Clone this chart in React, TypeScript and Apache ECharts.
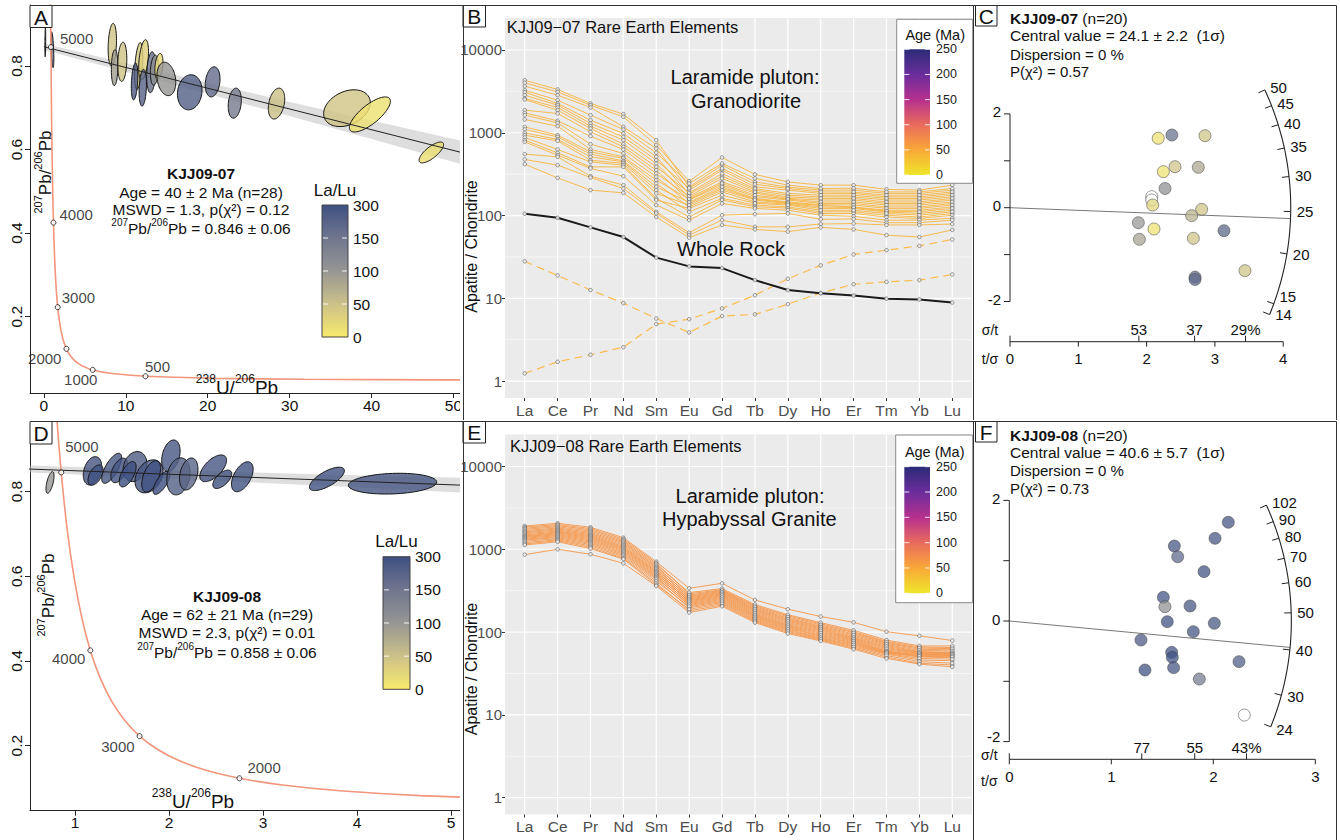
import React, { useEffect, useRef } from "react";
import * as echarts from "echarts";

const FONT = "'Liberation Sans', Arial, Helvetica, sans-serif";
const INK = "#111111";

// ---------------------------------------------------------------
// Tera–Wasserburg concordia (238U/206Pb vs 207Pb/206Pb)
// ---------------------------------------------------------------
const CONCORDIA_X = [0.7424, 0.795, 0.8533, 0.9179, 0.9902, 1.0713, 1.163, 1.2674, 1.387, 1.5254, 1.687, 1.8797, 2.111, 2.3942, 2.749, 3.206, 3.817, 4.673, 5.958, 8.105, 12.4, 20.99, 31.73, 49.09, 63.97];
const CONCORDIA_Y = [1.2067, 1.009, 0.8452, 0.7087, 0.5967, 0.503, 0.425, 0.36, 0.3058, 0.2605, 0.2226, 0.1909, 0.1643, 0.1419, 0.123, 0.1071, 0.0936, 0.0822, 0.0725, 0.0643, 0.0572, 0.0523, 0.0501, 0.0486, 0.048];
const AGE_MARKS = [5000, 4000, 3000, 2000, 1000, 500];
const AGE_MARK_X = [0.8533, 1.163, 1.687, 2.749, 5.958, 12.4];
const AGE_MARK_Y = [0.8452, 0.425, 0.2226, 0.123, 0.0725, 0.0572];

// Error ellipses: [238U/206Pb, 207Pb/206Pb, x half-axis, y half-axis, error correlation, La/Lu]
const ELLIPSES_0907 = [
  [0.17, 0.857, 0.05, 0.035, 0.3, 160],
  [1.03, 0.839, 0.18, 0.043, -0.5, 160],
  [8.35, 0.851, 0.51, 0.051, 0.2, 45],
  [8.63, 0.796, 0.4, 0.043, 0.1, 90],
  [9.57, 0.81, 0.55, 0.047, 0.15, 45],
  [11.56, 0.8, 0.5, 0.056, 0.4, 40],
  [11.07, 0.763, 0.4, 0.044, 0.3, 250],
  [12.17, 0.815, 0.6, 0.048, 0.4, 30],
  [12.07, 0.748, 0.45, 0.044, 0.2, 220],
  [13.1, 0.785, 0.55, 0.049, 0.2, 170],
  [13.5, 0.79, 0.5, 0.036, 0.2, 110],
  [14.04, 0.8, 0.5, 0.03, 0.3, 20],
  [14.95, 0.769, 1.15, 0.04, -0.2, 100],
  [17.8, 0.737, 1.5, 0.042, 0.1, 230],
  [20.6, 0.762, 0.9, 0.036, 0.2, 180],
  [23.3, 0.711, 0.8, 0.036, 0.2, 140],
  [28.4, 0.71, 1.0, 0.037, 0.3, 50],
  [37.0, 0.699, 2.85, 0.044, 0.3, 45],
  [39.8, 0.684, 2.5, 0.042, 0.75, 12],
  [47.3, 0.593, 1.5, 0.025, 0.75, 15],
];
const ELLIPSES_0908 = [
  [0.734, 0.8215, 0.043, 0.0255, 0.6, 100],
  [1.186, 0.849, 0.098, 0.0335, 0.3, 270],
  [1.218, 0.839, 0.08, 0.024, 0.5, 290],
  [1.39, 0.855, 0.106, 0.0354, 0.7, 260],
  [1.47, 0.85, 0.089, 0.029, 0.5, 280],
  [1.638, 0.859, 0.126, 0.0354, 0.2, 240],
  [1.56, 0.841, 0.09, 0.03, 0.6, 300],
  [1.787, 0.836, 0.149, 0.039, 0.3, 270],
  [1.81, 0.836, 0.1, 0.037, 0.5, 290],
  [1.92, 0.821, 0.09, 0.0275, 0.7, 300],
  [2.02, 0.8845, 0.098, 0.0374, 0.3, 260],
  [2.1, 0.836, 0.124, 0.0437, 0.2, 230],
  [2.21, 0.8416, 0.098, 0.0378, 0.3, 210],
  [2.47, 0.855, 0.142, 0.0315, 0.6, 260],
  [2.566, 0.829, 0.1, 0.0217, 0.6, 280],
  [2.78, 0.835, 0.115, 0.0354, 0.5, 280],
  [3.68, 0.83, 0.186, 0.0276, 0.7, 280],
  [4.378, 0.8187, 0.47, 0.0245, 0.15, 270],
];

// Discordia regressions and the half-width of their error envelopes
const REGRESSION_0907 = [[0, 0.846], [55, 0.573]];
const ENVELOPE_X_0907 = [0, 10, 20, 30, 40, 55];
const ENVELOPE_HALF_0907 = [0.008, 0.01, 0.013, 0.017, 0.022, 0.03];
const REGRESSION_0908 = [[0.3, 0.855], [5.5, 0.8119]];
const ENVELOPE_X_0908 = [0.3, 2, 4, 5.5];
const ENVELOPE_HALF_0908 = [0.008, 0.01, 0.014, 0.019];

// La/Lu colour scale
const LALU_TICKS = [0, 50, 100, 150, 300];
const LALU_RGB = [[248, 234, 108], [204, 193, 137], [150, 150, 148], [112, 118, 142], [62, 80, 130]];

// ---------------------------------------------------------------
// Chondrite-normalised rare earth elements
// ---------------------------------------------------------------
const REE = ["La", "Ce", "Pr", "Nd", "Sm", "Eu", "Gd", "Tb", "Dy", "Ho", "Er", "Tm", "Yb", "Lu"];
const APATITE_0907 = [
  [4315, 3334, 2259, 1679, 814, 222, 406, 255, 220, 203, 203, 185, 185, 203],
  [4008, 3119, 2154, 1556, 708, 260, 503, 314, 255, 233, 233, 207, 203, 233],
  [3656, 2844, 2022, 1178, 646, 203, 353, 222, 203, 185, 185, 168, 168, 185],
  [3266, 2477, 1633, 1096, 572, 244, 426, 281, 233, 212, 214, 193, 193, 212],
  [3090, 2259, 1419, 981, 512, 181, 299, 203, 176, 168, 168, 154, 154, 168],
  [2844, 2154, 1295, 892, 467, 214, 371, 239, 212, 193, 192, 176, 176, 193],
  [2594, 2022, 1202, 814, 426, 164, 255, 187, 161, 154, 154, 140, 140, 154],
  [2523, 1875, 1127, 728, 387, 188, 322, 211, 185, 176, 176, 161, 161, 176],
  [1875, 1711, 1026, 676, 353, 154, 233, 169, 154, 140, 140, 127, 127, 140],
  [1738, 1393, 910, 628, 322, 171, 281, 193, 168, 161, 161, 146, 146, 161],
  [1633, 1318, 728, 562, 293, 140, 212, 158, 143, 132, 127, 116, 116, 127],
  [1448, 1202, 628, 512, 268, 158, 244, 176, 158, 146, 146, 134, 134, 146],
  [1178, 935, 588, 490, 244, 127, 193, 146, 137, 122, 122, 110, 106, 116],
  [1096, 892, 552, 458, 222, 145, 222, 161, 146, 135, 134, 122, 122, 134],
  [998, 830, 512, 445, 203, 111, 161, 134, 127, 111, 111, 101, 96, 106],
  [935, 798, 467, 426, 185, 134, 203, 154, 140, 127, 125, 113, 111, 122],
  [877, 628, 445, 406, 161, 96, 154, 128, 123, 106, 106, 96, 92, 101],
  [814, 572, 387, 387, 154, 122, 176, 141, 134, 116, 116, 106, 101, 111],
  [776, 536, 371, 299, 134, 88, 140, 122, 116, 101, 98, 88, 88, 93],
  [552, 512, 299, 233, 111, 62, 101, 104, 106, 90, 91, 82, 82, 88],
  [476, 406, 288, 212, 106, 58, 88, 73, 73, 79, 80, 77, 77, 79],
  [418, 285, 203, 188, 96, 54, 77, 68, 64, 72, 68, 58, 55, 67],
];
const WHOLE_ROCK_0907 = [105, 94, 72, 55, 31, 24.3, 23.2, 16.6, 12.6, 11.5, 10.8, 9.9, 9.7, 8.9];
const DASHED_0907_A = [28, 18.9, 12.6, 8.75, 5.7, 3.87, 6.1, 6.4, 8.5, 11.6, 14.8, 15.8, 16.6, 19.4];
const DASHED_0907_B = [1.24, 1.71, 2.08, 2.57, 4.88, 5.6, 7.55, 10.9, 17.2, 25, 33.9, 38.2, 43, 51.4];
const APATITE_0908 = [
  [1911, 2061, 1845, 1380, 708, 338, 388, 244, 189, 154, 131, 101, 90, 79],
  [1850, 1990, 1780, 1330, 680, 290, 325, 208, 157, 126, 101, 77, 66, 65],
  [1794, 1930, 1720, 1280, 655, 300, 335, 215, 162, 130, 105, 80, 68, 68],
  [1740, 1870, 1660, 1240, 630, 272, 311, 196, 147, 118, 95, 73, 62, 61],
  [1679, 1810, 1600, 1200, 610, 280, 318, 202, 152, 122, 98, 75, 64, 63],
  [1630, 1760, 1550, 1160, 590, 258, 297, 185, 139, 112, 89, 69, 58, 57],
  [1585, 1710, 1500, 1120, 570, 265, 304, 190, 143, 115, 92, 71, 60, 59],
  [1540, 1660, 1460, 1080, 550, 245, 283, 175, 131, 106, 84, 65, 56, 55],
  [1488, 1620, 1420, 1050, 535, 251, 290, 180, 135, 109, 86, 67, 57, 56],
  [1450, 1580, 1380, 1020, 520, 233, 269, 165, 123, 100, 80, 61, 54, 53],
  [1420, 1540, 1340, 990, 505, 239, 276, 170, 127, 103, 82, 63, 55, 54],
  [1390, 1500, 1300, 960, 490, 221, 255, 157, 117, 94, 76, 58, 52, 51],
  [1358, 1460, 1260, 930, 475, 227, 262, 161, 120, 97, 78, 59, 53, 52],
  [1320, 1420, 1220, 900, 460, 209, 241, 149, 111, 89, 72, 56, 50, 49],
  [1295, 1380, 1180, 870, 445, 215, 248, 153, 114, 91, 74, 57, 51, 50],
  [1250, 1340, 1140, 840, 430, 196, 227, 141, 105, 84, 68, 54, 46, 45],
  [1202, 1300, 1100, 810, 410, 203, 234, 145, 108, 86, 70, 55, 48, 47],
  [1160, 1271, 1057, 778, 390, 180, 212, 134, 99, 80, 64, 50, 42, 40],
  [1127, 1230, 1020, 760, 371, 188, 220, 137, 102, 82, 66, 52, 44, 42],
  [861, 1000, 870, 677, 360, 172, 205, 130, 96, 78, 62, 48, 41, 38],
];
const REE_MAJOR = [1, 10, 100, 1000, 10000];
const REE_MINOR = [3.162, 31.62, 316.2, 3162];
const AGE_TICKS = [0, 50, 100, 150, 200, 250];
const AGE_COLORS = ["#efe62a", "#f9a838", "#ea6b5d", "#b6308e", "#6a2d9c", "#2b2b78"];

// ---------------------------------------------------------------
// Fission-track radial plots: [t/σ, standardised estimate, La/Lu (-1 = none)]
// ---------------------------------------------------------------
const RADIAL_0907 = [
  [2.17, 1.48, 10], [2.37, 1.55, 170], [2.855, 1.535, 45], [2.245, 0.768, 10], [2.416, 0.874, 45],
  [2.757, 0.861, 80], [2.27, 0.41, 110], [2.075, 0.235, -1], [2.075, 0.165, -1], [2.089, 0.058, 25],
  [2.806, -0.035, 45], [2.66, -0.17, 70], [1.879, -0.32, 100], [2.108, -0.454, 10], [3.133, -0.49, 220],
  [1.894, -0.674, 85], [2.684, -0.653, 45], [2.709, -1.48, 190], [2.709, -1.53, 200], [3.44, -1.343, 45],
];
const RADIAL_0908 = [
  [2.147, 1.637, 280], [2.017, 1.371, 280], [1.618, 1.244, 280], [1.651, 1.066, 200], [1.909, 0.818, 290],
  [1.51, 0.393, 290], [1.526, 0.237, 110], [1.772, 0.249, 280], [1.549, -0.011, 300], [2.01, -0.038, 270],
  [1.804, -0.177, 280], [1.291, -0.315, 260], [1.592, -0.52, 290], [1.598, -0.602, 300], [1.611, -0.774, 280],
  [1.33, -0.813, 300], [2.252, -0.674, 250], [1.863, -0.962, 140], [2.304, -1.559, -1],
];
const AGE_ARC_0907 = [14, 15, 20, 25, 30, 35, 40, 45, 50];
const AGE_ARC_0908 = [24, 30, 40, 50, 60, 70, 80, 90, 102];
const SIGMA_TICKS_0907 = [53, 37, 29];
const SIGMA_TICKS_0908 = [77, 55, 43];

// ---------------------------------------------------------------
// helpers
// ---------------------------------------------------------------
function laluRGB(v: number) {
  let i = 0;
  while (i < LALU_TICKS.length - 2 && v > LALU_TICKS[i + 1]) i++;
  const t = Math.max(0, Math.min(1, (v - LALU_TICKS[i]) / (LALU_TICKS[i + 1] - LALU_TICKS[i])));
  return LALU_RGB[i].map((c, k) => Math.round(c + (LALU_RGB[i + 1][k] - c) * t));
}
function laluColor(v: number, a = 1) {
  const [r, g, b] = laluRGB(v);
  return `rgba(${r},${g},${b},${a})`;
}

function textEl(x: number, y: number, text: string, o: any = {}) {
  const align = o.align || "center";
  const va = o.va || "middle";
  return {
    type: "text", x, y, z: 100, silent: true, rotation: o.rotation || 0,
    style: {
      text, fill: o.color || INK, fontSize: o.size || 15, fontFamily: FONT, fontWeight: o.weight || "normal",
      align, verticalAlign: va, textAlign: align, textVerticalAlign: va, rich: o.rich,
    },
  };
}
function lineEl(x1: number, y1: number, x2: number, y2: number, color = "#333", w = 1) {
  return { type: "line", z: 100, silent: true, shape: { x1, y1, x2, y2 }, style: { stroke: color, lineWidth: w } };
}
function rectEl(x: number, y: number, w: number, h: number, style: any) {
  return { type: "rect", z: 99, silent: true, shape: { x, y, width: w, height: h }, style };
}
function panelTag(letter: string, x: number, y: number, w: number, h: number) {
  return [
    rectEl(x, y, w, h, { fill: "#fff", stroke: "#222", lineWidth: 1 }),
    textEl(x + w / 2, y + h / 2 + 0.5, letter, { size: 21 }),
  ];
}
function supRich(base: number, sup: number) {
  return {
    n: { fontSize: base, fontFamily: FONT, fill: INK, lineHeight: Math.round(base * 1.25), verticalAlign: "bottom" },
    s: { fontSize: sup, fontFamily: FONT, fill: INK, lineHeight: sup + 1, verticalAlign: "top" },
    b: { fontSize: base, fontFamily: FONT, fill: INK, fontWeight: "bold" },
  };
}

// ---------------------------------------------------------------
// U–Pb Tera–Wasserburg panel
// ---------------------------------------------------------------
function uPbOption(c: any) {
  const marks = AGE_MARKS.map((age, i) => ({
    value: [AGE_MARK_X[i], AGE_MARK_Y[i]],
    label: {
      show: true, formatter: String(age), position: "inside", align: c.markLabels[age].align,
      verticalAlign: "middle", offset: c.markLabels[age].offset, fontSize: 15, fontFamily: FONT, color: INK,
    },
  }));
  const axisLine = { show: true, onZero: false, lineStyle: { color: "#222", width: 1 } };
  const [r0, r1] = c.regression;
  const yOnLine = (x: number) => r0[1] + ((r1[1] - r0[1]) * (x - r0[0])) / (r1[0] - r0[0]);

  const graphic: any[] = [];
  c.frame.forEach((f: number[]) => graphic.push(lineEl(f[0], f[1], f[2], f[3])));
  graphic.push(...panelTag(c.tag.text, c.tag.x, c.tag.y, c.tag.w, c.tag.h));
  // statistics block
  graphic.push(textEl(c.statsX, c.statsY[0], `{b|${c.sample}}`, { rich: supRich(15.5, 10) }));
  graphic.push(textEl(c.statsX, c.statsY[1], c.ageText, { size: 15.5 }));
  graphic.push(textEl(c.statsX, c.statsY[2], c.mswdText, { size: 15.5 }));
  graphic.push(textEl(c.statsX, c.statsY[3], `{s|207}{n|Pb/}{s|206}{n|Pb = ${c.intercept}}`, { rich: supRich(15.5, 10) }));
  // axis titles
  graphic.push(textEl(c.yTitle[0], c.yTitle[1], "{s|207}{n|Pb/}{s|206}{n|Pb}", { rich: supRich(17, 11), rotation: Math.PI / 2 }));
  graphic.push(textEl(c.xTitle[0], c.xTitle[1], "{s|238}{n|U/}{s|206}{n|Pb}", { rich: supRich(19, 12) }));
  // La/Lu colour bar
  const b = c.bar;
  graphic.push(textEl(b.x + b.w / 2, b.titleY, "La/Lu", { size: 17 }));
  graphic.push(rectEl(b.x, b.y, b.w, b.h, {
    fill: {
      type: "linear", x: 0, y: 0, x2: 0, y2: 1,
      colorStops: LALU_TICKS.map((v, i) => ({ offset: 1 - i / (LALU_TICKS.length - 1), color: laluColor(v) })).reverse(),
    },
    stroke: "#444", lineWidth: 1,
  }));
  LALU_TICKS.forEach((v, i) => {
    const yy = b.y + b.h * (1 - i / (LALU_TICKS.length - 1));
    graphic.push(textEl(b.x + b.w + 5, yy, String(v), { align: "left", size: 15.5 }));
    if (i > 0 && i < LALU_TICKS.length - 1) {
      graphic.push(lineEl(b.x + 1, yy, b.x + 6, yy, "rgba(255,255,255,0.9)", 1));
      graphic.push(lineEl(b.x + b.w - 6, yy, b.x + b.w - 1, yy, "rgba(255,255,255,0.9)", 1));
    }
  });

  return {
    animation: false,
    textStyle: { fontFamily: FONT },
    grid: { ...c.grid, outerBoundsMode: "none", containLabel: false },
    xAxis: {
      type: "value", min: c.x[0], max: c.x[1], axisLine, splitLine: { show: false },
      axisTick: { show: true, customValues: c.xTicks, length: 5, lineStyle: { color: "#222" } },
      axisLabel: { customValues: c.xTicks, color: INK, fontSize: 15.5, fontFamily: FONT, margin: 4 },
    },
    yAxis: {
      type: "value", min: c.y[0], max: c.y[1], axisLine, splitLine: { show: false },
      axisTick: { show: true, customValues: c.yTicks, length: 5, lineStyle: { color: "#222" } },
      axisLabel: {
        customValues: c.yTicks, rotate: 90, formatter: (v: number) => v.toFixed(1),
        color: INK, fontSize: 15.5, fontFamily: FONT, margin: 6,
      },
    },
    series: [
      {
        type: "custom", silent: true, clip: true, z: 1, data: [[r0[0], r0[1]]], encode: { x: 0, y: 1 },
        renderItem: (_p: any, api: any) => {
          const upper = c.envX.map((x: number, i: number) => api.coord([x, yOnLine(x) + c.envHalf[i]]));
          const lower = c.envX.map((x: number, i: number) => api.coord([x, yOnLine(x) - c.envHalf[i]])).reverse();
          return { type: "polygon", shape: { points: upper.concat(lower) }, style: { fill: "rgba(190,190,190,0.5)" } };
        },
      },
      {
        type: "custom", silent: true, clip: true, z: 2, data: c.ellipses, encode: { x: 0, y: 1 },
        renderItem: (_p: any, api: any) => {
          const cx = api.value(0), cy = api.value(1), sx = api.value(2), sy = api.value(3);
          const rho = api.value(4), lalu = api.value(5);
          const q = Math.sqrt(1 - rho * rho);
          const pts = [];
          for (let k = 0; k < 72; k++) {
            const t = (k / 72) * Math.PI * 2;
            pts.push(api.coord([cx + sx * Math.cos(t), cy + sy * (rho * Math.cos(t) + q * Math.sin(t))]));
          }
          return {
            type: "polygon", shape: { points: pts },
            style: { fill: laluColor(lalu, 0.82), stroke: "#141414", lineWidth: 1 },
          };
        },
      },
      {
        type: "line", silent: true, z: 3, symbol: "none", smooth: 0.3,
        data: CONCORDIA_X.map((x, i) => [x, CONCORDIA_Y[i]]),
        lineStyle: { color: "#f2957b", width: 1.6 },
      },
      {
        type: "line", silent: true, z: 4, symbol: "none", data: c.regression,
        lineStyle: { color: "#222", width: 1 },
      },
      {
        type: "scatter", silent: true, z: 5, symbol: "circle", symbolSize: 5, data: marks,
        itemStyle: { color: "#fff", borderColor: "#111", borderWidth: 1 },
      },
    ],
    graphic,
  };
}

// ---------------------------------------------------------------
// REE spider-diagram panel
// ---------------------------------------------------------------
function reeOption(c: any) {
  const xs = REE.map((_, i) => i + 1);
  const lineSeries = (row: number[], color: string, width: number, type: any, z: number, opacity = 1) => ({
    type: "line", silent: true, z, data: row.map((v, i) => [i + 1, v]),
    symbol: "circle", symbolSize: 3.6, showSymbol: true,
    lineStyle: { color, width, type, opacity },
    itemStyle: { color: "rgba(238,238,238,0.9)", borderColor: "#555", borderWidth: 0.6 },
  });
  const series: any[] = [
    {
      type: "custom", silent: true, clip: false, z: 0, data: [[1, 1]],
      renderItem: (params: any, api: any) => {
        const cs = params.coordSys;
        const ch: any[] = [{ type: "rect", shape: { x: cs.x, y: cs.y, width: cs.width, height: cs.height }, style: { fill: "#ebebeb" } }];
        REE_MINOR.forEach((v) => {
          const y = api.coord([1, v])[1];
          ch.push({ type: "line", shape: { x1: cs.x, y1: y, x2: cs.x + cs.width, y2: y }, style: { stroke: "#fff", lineWidth: 0.6 } });
        });
        REE_MAJOR.forEach((v) => {
          const y = api.coord([1, v])[1];
          ch.push({ type: "line", shape: { x1: cs.x, y1: y, x2: cs.x + cs.width, y2: y }, style: { stroke: "#fff", lineWidth: 1.2 } });
        });
        xs.forEach((x) => {
          const px = api.coord([x, 1])[0];
          ch.push({ type: "line", shape: { x1: px, y1: cs.y, x2: px, y2: cs.y + cs.height }, style: { stroke: "#fff", lineWidth: 1.2 } });
        });
        return { type: "group", children: ch };
      },
    },
  ];
  (c.dashed || []).forEach((r: number[]) => series.push(lineSeries(r, c.dashColor, 1.2, [8, 5], 3)));
  c.rows.forEach((r: number[]) => series.push(lineSeries(r, c.color, 0.9, "solid", 4, 0.95)));
  if (c.wholeRock) series.push(lineSeries(c.wholeRock, "#1a1a1a", 2, "solid", 5));

  const g: any[] = [];
  g.push(lineEl(0, c.frameY, 515, c.frameY));
  g.push(lineEl(3.5, c.frameY, 3.5, 420));
  g.push(lineEl(513.5, c.frameY, 513.5, 420));
  g.push(...panelTag(c.tag, 3, c.frameY, 22.5, 21.5));
  g.push(textEl(c.titleX, c.titleY, c.title, { align: "left", size: 16.5 }));
  c.labels.forEach((l: any) => g.push(textEl(l.x, l.y, l.text, { size: 20 })));
  g.push(textEl(11, c.yTitleY, "Apatite / Chondrite", { size: 16, rotation: Math.PI / 2 }));
  // age legend
  const L = c.legend;
  g.push(rectEl(L.x, L.y, L.w, L.h, { fill: "#fff", stroke: "#8a8a8a", lineWidth: 1 }));
  g.push(textEl(L.x + L.w / 2 + 0.5, L.titleY, "Age (Ma)", { size: 14.5 }));
  g.push(rectEl(L.bx, L.by, L.bw, L.bh, {
    fill: {
      type: "linear", x: 0, y: 0, x2: 0, y2: 1,
      colorStops: AGE_COLORS.map((col, i) => ({ offset: 1 - i / (AGE_COLORS.length - 1), color: col })).reverse(),
    },
  }));
  AGE_TICKS.forEach((v, i) => {
    const yy = L.by + L.bh * (1 - i / (AGE_TICKS.length - 1));
    g.push(textEl(L.bx + L.bw + 6, yy, String(v), { align: "left", size: 12.5, color: "#222" }));
    g.push(lineEl(L.bx, yy, L.bx + 5, yy, "rgba(255,255,255,0.85)", 1));
    g.push(lineEl(L.bx + L.bw - 5, yy, L.bx + L.bw, yy, "rgba(255,255,255,0.85)", 1));
  });

  return {
    animation: false,
    textStyle: { fontFamily: FONT },
    grid: { left: 45, top: c.top, width: 467, height: 380, outerBoundsMode: "none", containLabel: false },
    xAxis: {
      type: "value", min: 0.4, max: 14.6, axisLine: { show: false }, splitLine: { show: false },
      axisTick: { show: true, customValues: xs, length: 3, lineStyle: { color: "#333" } },
      axisLabel: {
        customValues: xs, formatter: (v: number) => REE[Math.round(v) - 1] || "",
        color: "#4d4d4d", fontSize: 15.5, fontFamily: FONT, margin: 4,
      },
    },
    yAxis: {
      type: "log", logBase: 10, min: 0.625, max: 24350, axisLine: { show: false }, splitLine: { show: false },
      axisTick: { show: true, customValues: REE_MAJOR, length: 3, lineStyle: { color: "#333" } },
      axisLabel: {
        customValues: REE_MAJOR, formatter: (v: number) => String(Math.round(v)),
        color: "#4d4d4d", fontSize: 15, fontFamily: FONT, margin: 3,
      },
    },
    series,
    graphic: g,
  };
}

// ---------------------------------------------------------------
// Radial plot panel
// ---------------------------------------------------------------
function radialOption(c: any) {
  const frame = {
    type: "custom", silent: true, clip: false, z: 1, data: [[0, 0]],
    renderItem: (_p: any, api: any) => {
      const o = api.coord([0, 0]);
      const R = api.size([c.arcRadius, 0])[0];
      const dir = (age: number) => {
        const p = api.coord([1, Math.log(age) - c.z0]);
        const dx = p[0] - o[0], dy = p[1] - o[1];
        const len = Math.hypot(dx, dy);
        return [dx / len, dy / len];
      };
      const ch: any[] = [];
      const seg = (x1: number, y1: number, x2: number, y2: number, w = 1, col = "#222") =>
        ch.push({ type: "line", shape: { x1, y1, x2, y2 }, style: { stroke: col, lineWidth: w } });
      const label = (x: number, y: number, t: string, align: string, size = 15) =>
        ch.push({
          type: "text", x, y,
          style: { text: t, fill: INK, fontSize: size, fontFamily: FONT, align, verticalAlign: "middle", textAlign: align, textVerticalAlign: "middle" },
        });
      // age arc
      const ages = c.ages;
      const d0 = dir(ages[0]), d1 = dir(ages[ages.length - 1]);
      const a0 = Math.atan2(d0[1], d0[0]), a1 = Math.atan2(d1[1], d1[0]);
      const pts = [];
      for (let k = 0; k <= 90; k++) {
        const a = a0 + ((a1 - a0) * k) / 90;
        pts.push([o[0] + R * Math.cos(a), o[1] + R * Math.sin(a)]);
      }
      ch.push({ type: "polyline", shape: { points: pts }, style: { stroke: "#222", lineWidth: 1.1, fill: "none" } });
      ages.forEach((age: number) => {
        const d = dir(age);
        seg(o[0] + d[0] * (R - 7), o[1] + d[1] * (R - 7), o[0] + d[0] * R, o[1] + d[1] * R);
        const nudge = (c.labelNudge && c.labelNudge[age]) || 0;
        label(o[0] + d[0] * (R + 6), o[1] + d[1] * (R + 6) + nudge, String(age), "left");
      });
      // central value
      const dc = dir(c.central);
      seg(o[0], o[1], o[0] + dc[0] * R, o[1] + dc[1] * R, 0.8, "#555");
      // standardised-estimate axis
      const yTop = api.coord([0, 2]), yBot = api.coord([0, -2]);
      seg(o[0], yTop[1], o[0], yBot[1]);
      [-2, -1, 0, 1, 2].forEach((v) => {
        const p = api.coord([0, v]);
        seg(o[0] - 6, p[1], o[0], p[1]);
        if (v % 2 === 0) label(o[0] - 9, p[1] - (v === -2 ? c.minusTwoLift : 2), String(v), "right");
      });
      // precision axis
      const ya = yBot[1] + c.xAxisGap;
      const xEnd = api.coord([c.xTicks[c.xTicks.length - 1], 0])[0];
      seg(o[0], ya, xEnd, ya);
      c.xTicks.forEach((v: number) => {
        const px = api.coord([v, 0])[0];
        seg(px, ya, px, ya + 5);
        label(px, ya + 17, String(v), "center");
      });
      seg(o[0], ya - 6, o[0], ya);
      c.sigma.forEach((s: number, i: number) => {
        const px = api.coord([100 / s, 0])[0];
        seg(px, ya - 6, px, ya);
        label(px, ya - 12, i === c.sigma.length - 1 ? `${s}%` : String(s), "center");
      });
      label(o[0] - 20, ya + c.sigmaTitleDy, "σ/t", "center", 14);
      label(o[0] - 20, ya + c.tTitleDy, "t/σ", "center", 14);
      return { type: "group", children: ch };
    },
  };

  const g: any[] = [];
  g.push(lineEl(0, c.frameY, 361.5, c.frameY));
  g.push(lineEl(361.5, c.frameY, 361.5, 420));
  g.push(...panelTag(c.tag, 0.5, c.frameY, 21.5, 20.5));
  const rich = {
    b: { fontWeight: "bold", fontSize: 15.5, fontFamily: FONT, fill: INK },
    r: { fontSize: 15.5, fontFamily: FONT, fill: INK },
  };
  g.push(textEl(35, c.textY[0], `{b|${c.sample}}{r| (n=${c.n})}`, { align: "left", rich }));
  g.push(textEl(35, c.textY[1], `Central value = ${c.centralText}\u00a0\u00a0(1σ)`, { align: "left", size: 15.5 }));
  g.push(textEl(35, c.textY[2], "Dispersion = 0 %", { align: "left", size: 15 }));
  g.push(textEl(35, c.textY[3], `P(χ²) = ${c.p}`, { align: "left", size: 15 }));

  return {
    animation: false,
    textStyle: { fontFamily: FONT },
    grid: { ...c.grid, outerBoundsMode: "none", containLabel: false },
    xAxis: { type: "value", min: c.xr[0], max: c.xr[1], show: false },
    yAxis: { type: "value", min: c.yr[0], max: c.yr[1], show: false },
    series: [
      frame,
      {
        type: "scatter", silent: true, z: 3, symbol: "circle", symbolSize: 12, data: c.points,
        itemStyle: {
          color: (p: any) => (p.value[2] < 0 ? "#ffffff" : laluColor(p.value[2], 0.92)),
          borderColor: "rgba(70,70,70,0.85)", borderWidth: 0.8,
        },
      },
    ],
    graphic: g,
  };
}

// ---------------------------------------------------------------
// panels
// ---------------------------------------------------------------
const PANELS = [
  {
    x: 0, y: 0, w: 460, h: 420,
    option: () => uPbOption({
      grid: { left: 30, top: 5, width: 430, height: 388 },
      x: [-1.7, 50.8], y: [0.0172, 0.946], xTicks: [0, 10, 20, 30, 40, 50], yTicks: [0.2, 0.4, 0.6, 0.8],
      ellipses: ELLIPSES_0907, regression: REGRESSION_0907, envX: ENVELOPE_X_0907, envHalf: ENVELOPE_HALF_0907,
      markLabels: {
        5000: { align: "left", offset: [9, -9] }, 4000: { align: "left", offset: [6, -8] },
        3000: { align: "left", offset: [4, -10] }, 2000: { align: "right", offset: [-5, 10] },
        1000: { align: "center", offset: [-12, 10] }, 500: { align: "center", offset: [12, -10] },
      },
      sample: "KJJ09-07", ageText: "Age = 40 ± 2 Ma (n=28)", mswdText: "MSWD = 1.3, p(χ²) = 0.12", intercept: "0.846 ± 0.06",
      statsX: 201, statsY: [173, 192.7, 209.5, 227],
      bar: { x: 322, y: 205, w: 26, h: 132, titleY: 190 },
      yTitle: [43, 172], xTitle: [237, 385],
      frame: [[30, 5.5, 460, 5.5]], tag: { text: "A", x: 30, y: 5.5, w: 22, h: 22 },
    }),
  },
  {
    x: 460, y: 0, w: 515, h: 420,
    option: () => reeOption({
      top: 18, frameY: 5.5, tag: "B", title: "KJJ09−07 Rare Earth Elements", titleX: 46.7, titleY: 26.7,
      rows: APATITE_0907, color: "#f8b234", dashed: [DASHED_0907_A, DASHED_0907_B], dashColor: "#fbbb4c",
      wholeRock: WHOLE_ROCK_0907,
      labels: [
        { x: 285, y: 77.3, text: "Laramide pluton:" }, { x: 286, y: 100.5, text: "Granodiorite" },
        { x: 271, y: 249, text: "Whole Rock" },
      ],
      yTitleY: 246.5,
      legend: { x: 436.7, y: 19.3, w: 76, h: 164, titleY: 35, bx: 444.3, by: 49.3, bw: 25.7, bh: 125.7 },
    }),
  },
  {
    x: 975, y: 0, w: 365, h: 420,
    option: () => radialOption({
      grid: { left: 35, top: 20.1, width: 314.2, height: 375.2 }, xr: [0, 4.6], yr: [-4, 4],
      points: RADIAL_0907, ages: AGE_ARC_0907, z0: Math.log(25.5), central: 24.1, arcRadius: 4.11,
      labelNudge: { 15: -9, 14: -2 },
      xTicks: [0, 1, 2, 3, 4], sigma: SIGMA_TICKS_0907, xAxisGap: 40.2, sigmaTitleDy: -12, tTitleDy: 17.5,
      minusTwoLift: 2,
      frameY: 5.5, tag: "C", sample: "KJJ09-07", n: 20, centralText: "24.1 ± 2.2", p: "0.57",
      textY: [18.3, 35.5, 54, 71.7],
    }),
  },
  {
    x: 0, y: 420, w: 460, h: 420,
    option: () => uPbOption({
      grid: { left: 30, top: 2, width: 430, height: 388.7 },
      x: [0.521, 5.096], y: [0.0465, 0.9643], xTicks: [1, 2, 3, 4, 5], yTicks: [0.2, 0.4, 0.6, 0.8],
      ellipses: ELLIPSES_0908, regression: REGRESSION_0908, envX: ENVELOPE_X_0908, envHalf: ENVELOPE_HALF_0908,
      markLabels: {
        5000: { align: "left", offset: [4, -26] }, 4000: { align: "right", offset: [-5, 8] },
        3000: { align: "right", offset: [-5, 10.5] }, 2000: { align: "left", offset: [8, -10.5] },
        1000: { align: "left", offset: [8, -10] }, 500: { align: "left", offset: [8, -10] },
      },
      sample: "KJJ09-08", ageText: "Age = 62 ± 21 Ma (n=29)", mswdText: "MSWD = 2.3, p(χ²) = 0.01", intercept: "0.858 ± 0.06",
      statsX: 227, statsY: [176.7, 194.3, 212.7, 231],
      bar: { x: 383, y: 136.7, w: 27, h: 132.6, titleY: 121.7 },
      yTitle: [46, 175], xTitle: [193, 379],
      frame: [[30, 1.5, 460, 1.5]], tag: { text: "D", x: 30, y: 1.5, w: 22, h: 22.5 },
    }),
  },
  {
    x: 460, y: 420, w: 515, h: 420,
    option: () => reeOption({
      top: 14.5, frameY: 1.5, tag: "E", title: "KJJ09−08 Rare Earth Elements", titleX: 50, titleY: 26,
      rows: APATITE_0908, color: "#f6913f",
      labels: [
        { x: 290, y: 76, text: "Laramide pluton:" }, { x: 289.3, y: 99.3, text: "Hypabyssal Granite" },
      ],
      yTitleY: 249,
      legend: { x: 435.7, y: 15, w: 77, h: 167.7, titleY: 31.7, bx: 444.3, by: 46.7, bw: 25.7, bh: 126.6 },
    }),
  },
  {
    x: 975, y: 420, w: 365, h: 420,
    option: () => radialOption({
      grid: { left: 34.3, top: 2, width: 326.4, height: 398 }, xr: [0, 3.2], yr: [-3.3, 3.3],
      points: RADIAL_0908, ages: AGE_ARC_0908, z0: Math.log(47.6), central: 40.6, arcRadius: 2.765,
      xTicks: [0, 1, 2, 3], sigma: SIGMA_TICKS_0908, xAxisGap: 17.7, sigmaTitleDy: -4, tTitleDy: 21.5,
      minusTwoLift: 5,
      frameY: 1.5, tag: "F", sample: "KJJ09-08", n: 20, centralText: "40.6 ± 5.7", p: "0.73",
      textY: [15, 32.7, 50.7, 68.3],
    }),
  },
];

export default function App() {
  const boxes = useRef<(HTMLDivElement | null)[]>([]);
  useEffect(() => {
    const charts = PANELS.map((p, i) => {
      const chart = echarts.init(boxes.current[i] as HTMLDivElement, null, { renderer: "svg" });
      chart.setOption(p.option() as any);
      return chart;
    });
    return () => charts.forEach((c) => c.dispose());
  }, []);
  return (
    <div style={{ position: "absolute", left: 0, top: 0, width: 1340, height: 840, background: "#fff", overflow: "hidden" }}>
      {PANELS.map((p, i) => (
        <div
          key={i}
          ref={(el) => { boxes.current[i] = el; }}
          style={{ position: "absolute", left: p.x, top: p.y, width: p.w, height: p.h }}
        />
      ))}
    </div>
  );
}
